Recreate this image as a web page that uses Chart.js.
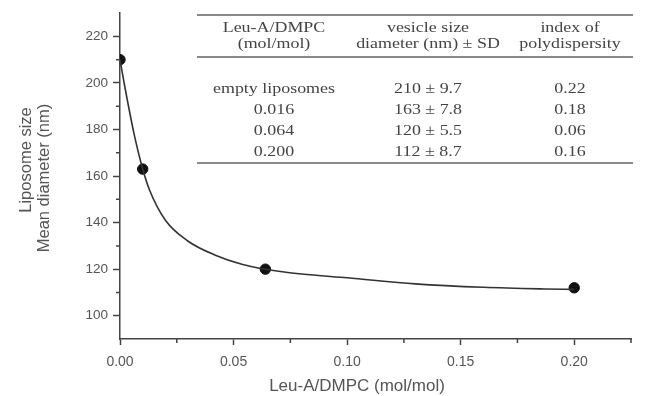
<!DOCTYPE html>
<html>
<head>
<meta charset="utf-8">
<script src="https://cdn.jsdelivr.net/npm/chart.js@4.4.1/dist/chart.umd.min.js"></script>
<style>
  body { margin: 0; background: #fff; }
  #wrap { position: relative; width: 654px; height: 396px; overflow: hidden; }
  #chart { position: absolute; left: 0; top: 0; }
  .cell {
    position: absolute; white-space: nowrap; color: #444;
    font-family: "Liberation Serif", "Times New Roman", serif; font-size: 14px; line-height: 14px;
    transform: translate(-50%, -50%) scaleX(1.28);
  }
  .rule { position: absolute; height: 2px; background: #8a8a8a; }
</style>
</head>
<body>
<div id="wrap">
  <canvas id="chart" width="654" height="396"></canvas>
  <div id="tabla"></div>
</div>
<script>
// Datos medidos (puntos del gráfico)
const pointX = [0, 0.010, 0.064, 0.200];
const pointY = [210, 163, 120, 112];

// Curva ajustada
const curveX = [0, 0.002, 0.006, 0.010, 0.013, 0.020, 0.030, 0.042, 0.054, 0.064, 0.080, 0.100, 0.130, 0.160, 0.187, 0.200];
const curveY = [210, 199, 179, 163, 154, 141, 132, 126, 122, 120, 117.9, 116.3, 113.7, 112.2, 111.5, 111.3];

// Ticks de los ejes
const xMajor = [0, 0.05, 0.10, 0.15, 0.20];
const xMinor = [0.025, 0.075, 0.125, 0.175, 0.225];
const yMajor = [100, 120, 140, 160, 180, 200, 220];
const yMinor = [110, 130, 150, 170, 190, 210];

const xTitle = "Leu-A/DMPC (mol/mol)";
const yTitle = ["Liposome size", "Mean diameter (nm)"];

// Tabla insertada
const headCol1 = ["Leu-A/DMPC", "(mol/mol)"];
const headCol2 = ["vesicle size", "diameter (nm) \u00b1 SD"];
const headCol3 = ["index of", "polydispersity"];
const ratios = ["empty liposomes", "0.016", "0.064", "0.200"];
const sizes = ["210 \u00b1 9.7", "163 \u00b1 7.8", "120 \u00b1 5.5", "112 \u00b1 8.7"];
const pdi = ["0.22", "0.18", "0.06", "0.16"];

const AXIS = "#444";
const TEXT = "#555";
const SANS = '"Liberation Sans", Arial, sans-serif';

// Ticks menores y títulos de los ejes
const extras = {
    id: "extras",
    afterDraw(chart) {
        const ctx = chart.ctx;
        const xs = chart.scales.x, ys = chart.scales.y;
        ctx.save();
        ctx.strokeStyle = AXIS;
        ctx.lineWidth = 1.5;
        ctx.beginPath();
        xMinor.forEach(v => {
            const px = xs.getPixelForValue(v);
            ctx.moveTo(px, xs.top);
            ctx.lineTo(px, xs.top + 4);
        });
        yMinor.forEach(v => {
            const py = ys.getPixelForValue(v);
            ctx.moveTo(ys.right, py);
            ctx.lineTo(ys.right - 4, py);
        });
        ctx.stroke();

        ctx.fillStyle = TEXT;
        ctx.font = "17px " + SANS;
        ctx.textAlign = "center";
        ctx.textBaseline = "middle";
        ctx.fillText(xTitle, 357, 386);

        ctx.font = "16.5px " + SANS;
        ctx.save();
        ctx.translate(26, 160);
        ctx.rotate(-Math.PI / 2);
        ctx.fillText(yTitle[0], 0, 0);
        ctx.restore();
        ctx.save();
        ctx.translate(44, 178);
        ctx.rotate(-Math.PI / 2);
        ctx.fillText(yTitle[1], 0, 0);
        ctx.restore();
        ctx.restore();
    }
};

new Chart(document.getElementById("chart").getContext("2d"), {
    type: "line",
    data: {
        datasets: [{
            data: curveX.map((x, i) => ({ x: x, y: curveY[i] })),
            borderColor: "#333",
            borderWidth: 1.6,
            pointRadius: 0,
            tension: 0.4,
            cubicInterpolationMode: "monotone"
        }, {
            data: pointX.map((x, i) => ({ x: x, y: pointY[i] })),
            showLine: false,
            pointRadius: 5.2,
            pointBorderWidth: 1,
            pointBackgroundColor: "#111",
            pointBorderColor: "#111"
        }]
    },
    options: {
        responsive: false,
        animation: false,
        layout: { padding: { top: 12, right: 23, left: 0, bottom: 0 } },
        plugins: { legend: { display: false }, tooltip: { enabled: false } },
        scales: {
            x: {
                type: "linear",
                min: 0,
                max: 0.225,
                afterBuildTicks: s => { s.ticks = xMajor.map(v => ({ value: v })); },
                afterFit: s => { s.height = 57; },
                ticks: {
                    autoSkip: false, maxRotation: 0, padding: 9, color: TEXT,
                    font: { family: SANS, size: 14 },
                    callback: v => Number(v).toFixed(2)
                },
                grid: { drawOnChartArea: false, tickLength: 6, tickColor: AXIS, tickWidth: 1.5 },
                border: { color: AXIS, width: 1.5 }
            },
            y: {
                min: 90,
                max: 230,
                afterBuildTicks: s => { s.ticks = yMajor.map(v => ({ value: v })); },
                afterFit: s => { s.width = 120; },
                ticks: {
                    autoSkip: false, padding: 5, color: TEXT,
                    font: { family: SANS, size: 13.5 },
                    callback: v => String(v)
                },
                grid: { drawOnChartArea: false, tickLength: 7, tickColor: AXIS, tickWidth: 1.5 },
                border: { color: AXIS, width: 1.5 }
            }
        }
    },
    plugins: [extras]
});

// Construir la tabla
const tabla = document.getElementById("tabla");
function addText(txt, cx, cy) {
    const d = document.createElement("div");
    d.className = "cell";
    d.textContent = txt;
    d.style.left = cx + "px";
    d.style.top = cy + "px";
    tabla.appendChild(d);
}
function addRule(y) {
    const d = document.createElement("div");
    d.className = "rule";
    d.style.left = "197px";
    d.style.width = "436px";
    d.style.top = (y - 1) + "px";
    tabla.appendChild(d);
}
const colX = [274, 428, 570];
const headY = [28, 44];
const rowY = [89, 110, 131, 152];
[headCol1, headCol2, headCol3].forEach((h, c) => {
    h.forEach((t, r) => addText(t, colX[c], headY[r]));
});
[ratios, sizes, pdi].forEach((col, c) => {
    col.forEach((t, r) => addText(t, colX[c], rowY[r]));
});
addRule(15);
addRule(57);
addRule(163);
</script>
</body>
</html>
